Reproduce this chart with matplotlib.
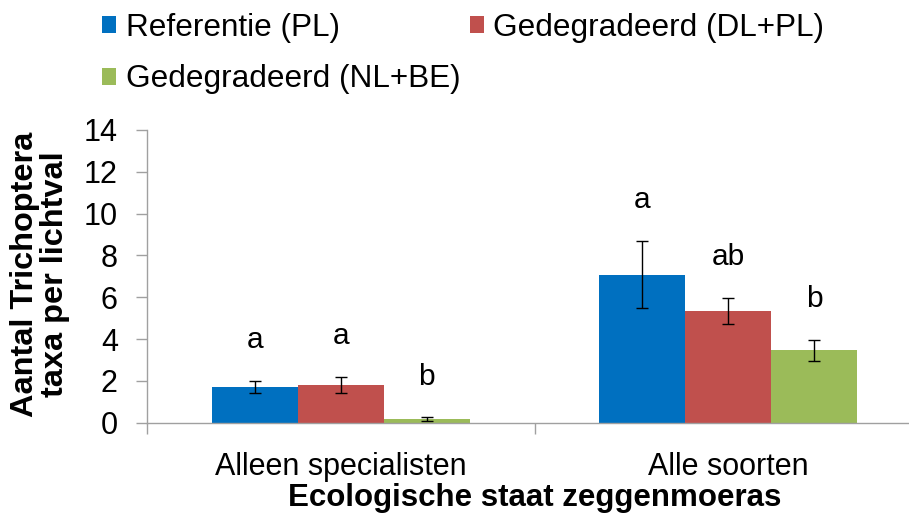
import numpy as np
import matplotlib.pyplot as plt
from matplotlib.ticker import MultipleLocator, FixedLocator

plt.rcParams['font.family'] = ['Liberation Sans', 'DejaVu Sans']

categories = ["Alleen specialisten", "Alle soorten"]
series = ["Referentie (PL)", "Gedegradeerd (DL+PL)", "Gedegradeerd (NL+BE)"]
colors = ["#0070C0", "#C0504D", "#9BBB59"]

ref_pl = [1.72, 7.08]
ref_pl_err = [0.28, 1.60]
dl_pl = [1.79, 5.34]
dl_pl_err = [0.39, 0.63]
nl_be = [0.16, 3.47]
nl_be_err = [0.09, 0.50]

letters_ref = ["a", "a"]
letters_dl = ["a", "ab"]
letters_nl = ["b", "b"]

values = [ref_pl, dl_pl, nl_be]
errors = [ref_pl_err, dl_pl_err, nl_be_err]
letters = [letters_ref, letters_dl, letters_nl]

fig = plt.figure(figsize=(9.09, 5.21), dpi=100)
ax = fig.add_axes([147 / 909, 1 - 422.7 / 521, 775 / 909, (422.7 - 130) / 521])

x = np.arange(len(categories))
w = 1 / 4.5
handles = []
for i in range(3):
    pos = x + (i - 1) * w
    b = ax.bar(pos, values[i], width=w, color=colors[i], label=series[i])
    ax.errorbar(pos, values[i], yerr=errors[i], fmt='none', ecolor='black',
                elinewidth=1, capsize=4, capthick=1)
    handles.append(b)
    for xp, v, e, t in zip(pos, values[i], errors[i], letters[i]):
        ax.text(xp, v + e + 1.95, t, ha='center', va='center', fontsize=21.5)

ax.set_xlim(-0.5, 1.5)
ax.set_ylim(0, 14)
ax.yaxis.set_major_locator(MultipleLocator(2))
ax.set_xticks(x)
ax.set_xticklabels(categories, fontsize=22)
ax.xaxis.set_minor_locator(FixedLocator([-0.5, 0.5, 1.5]))
ax.tick_params(axis='x', which='major', length=0, pad=21)
ax.tick_params(axis='x', which='minor', length=8, width=1, color='#A0A0A0', direction='out')
ax.tick_params(axis='y', labelsize=22, length=8, width=1, color='#A0A0A0', direction='out', pad=13)

for s in ['top', 'right']:
    ax.spines[s].set_visible(False)
for s in ['left', 'bottom']:
    ax.spines[s].set_color('#A0A0A0')
    ax.spines[s].set_linewidth(1)

ax.set_xlabel("Ecologische staat zeggenmoeras", fontsize=22.5, fontweight='bold', labelpad=1)
fig.text(40 / 909, 1 - 274 / 521, "Aantal Trichoptera\ntaxa per lichtval", rotation=90,
         ha='center', va='center', fontsize=23.4, fontweight='bold', linespacing=0.97,
         multialignment='center')

order = [0, 2, 1]
fig.legend([handles[k] for k in order], [series[k] for k in order], ncol=2,
           loc='upper left', bbox_to_anchor=(102 / 909, 1 - 13 / 521), frameon=False,
           fontsize=22.7, handlelength=0.45, handleheight=0.45, handletextpad=0.3,
           labelspacing=0.68, columnspacing=0.3, borderpad=0, borderaxespad=0)

fig.savefig("out.png", dpi=100)
